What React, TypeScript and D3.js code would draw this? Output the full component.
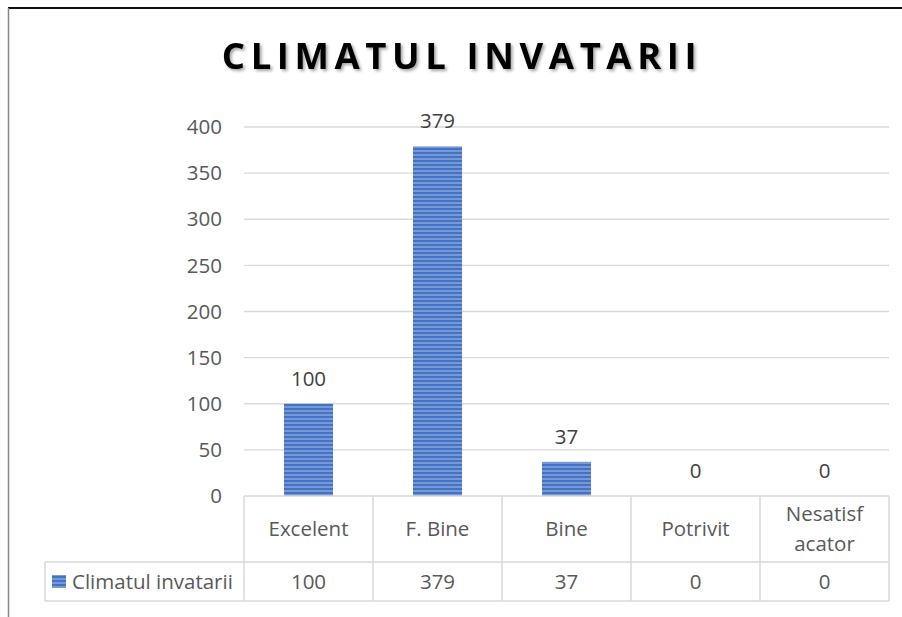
import React from 'react';
import * as d3 from 'd3';

const categories = ['Excelent', 'F. Bine', 'Bine', 'Potrivit', 'Nesatisfacator'];
const categoryLines = [['Excelent'], ['F. Bine'], ['Bine'], ['Potrivit'], ['Nesatisf', 'acator']];
const values = [100, 379, 37, 0, 0];
const yTicks = [0, 50, 100, 150, 200, 250, 300, 350, 400];
const seriesName = 'Climatul invatarii';

const width = 902;
const height = 617;
const plot = { left: 244, right: 889, top: 127, bottom: 496 };
const tableRow1 = 562;
const tableBottom = 601;
const legendLeft = 45;
const textColor = '#595959';
const gridColor = '#d9d9d9';
const font = '"Open Sans", sans-serif';
const fontSize = 20.5;

const App: React.FC = () => {
  const x = d3.scaleBand<string>().domain(categories).range([plot.left, plot.right]).paddingInner(0.62).paddingOuter(0.31);
  const band = d3.scaleBand<string>().domain(categories).range([plot.left, plot.right]);
  const y = d3.scaleLinear().domain([0, 400]).range([plot.bottom, plot.top]);

  return (
    <svg width={width} height={height} style={{ position: 'absolute', left: 0, top: 0 }}>
      <defs>
        <pattern id="stripes" patternUnits="userSpaceOnUse" width={8} height={4}>
          <rect width={8} height={4} fill="#4472c4" />
          <rect y={2.5} width={8} height={1} fill="#a9bfe8" />
        </pattern>
        <filter id="shadow" x="-10%" y="-20%" width="120%" height="150%">
          <feDropShadow dx={2} dy={2} stdDeviation={1.5} floodColor="#000" floodOpacity={0.35} />
        </filter>
      </defs>
      <rect x={0} y={0} width={width} height={height} fill="#fff" />
      <line x1={8} x2={width} y1={8} y2={8} stroke="#111" strokeWidth={2} />
      <line x1={8.5} x2={8.5} y1={8} y2={height} stroke="#888" strokeWidth={1.5} />

      <text
        x={462}
        y={69}
        textAnchor="middle"
        fontFamily={font}
        fontWeight={700}
        fontSize={36.5}
        letterSpacing={5.6}
        fill="#000"
        filter="url(#shadow)"
      >
        CLIMATUL INVATARII
      </text>

      {yTicks.slice(1).map(t => (
        <line key={t} x1={plot.left} x2={plot.right} y1={y(t)} y2={y(t)} stroke={gridColor} strokeWidth={1.3} />
      ))}
      {yTicks.map(t => (
        <text key={t} x={222} y={y(t)} dy="0.35em" textAnchor="end" fontFamily={font} fontSize={fontSize} fill={textColor}>
          {t}
        </text>
      ))}

      {categories.map((c, i) => (
        <g key={c}>
          <rect
            x={x(c)}
            y={y(values[i])}
            width={x.bandwidth()}
            height={plot.bottom - y(values[i])}
            fill="url(#stripes)"
          />
          <text
            x={(x(c) ?? 0) + x.bandwidth() / 2}
            y={y(values[i]) - 18}
            textAnchor="middle"
            fontFamily={font}
            fontSize={fontSize}
            fill="#404040"
          >
            {values[i]}
          </text>
        </g>
      ))}

      {/* data table */}
      <g stroke={gridColor} strokeWidth={1.5} fill="none">
        <line x1={plot.left} x2={plot.right} y1={plot.bottom} y2={plot.bottom} />
        <line x1={legendLeft} x2={plot.right} y1={tableRow1} y2={tableRow1} />
        <line x1={legendLeft} x2={plot.right} y1={tableBottom} y2={tableBottom} />
        <line x1={legendLeft} x2={legendLeft} y1={tableRow1} y2={tableBottom} />
        {categories.map(c => (
          <line key={c} x1={band(c)} x2={band(c)} y1={plot.bottom} y2={tableBottom} />
        ))}
        <line x1={plot.right} x2={plot.right} y1={plot.bottom} y2={tableBottom} />
      </g>
      {categories.map((c, i) => {
        const cx = (band(c) ?? 0) + band.bandwidth() / 2;
        const lines = categoryLines[i];
        const mid = (plot.bottom + tableRow1) / 2;
        return (
          <g key={c}>
            {lines.map((l, j) => (
              <text
                key={l}
                x={cx}
                y={mid + (j - (lines.length - 1) / 2) * 30}
                dy="0.35em"
                textAnchor="middle"
                fontFamily={font}
                fontSize={fontSize}
                fill={textColor}
              >
                {l}
              </text>
            ))}
            <text
              x={cx}
              y={(tableRow1 + tableBottom) / 2}
              dy="0.35em"
              textAnchor="middle"
              fontFamily={font}
              fontSize={fontSize}
              fill={textColor}
            >
              {values[i]}
            </text>
          </g>
        );
      })}
      <rect x={52} y={575} width={14} height={13} fill="url(#stripes)" />
      <text x={72} y={(tableRow1 + tableBottom) / 2} dy="0.35em" fontFamily={font} fontSize={fontSize} fill={textColor}>
        {seriesName}
      </text>
    </svg>
  );
};

export default App;
